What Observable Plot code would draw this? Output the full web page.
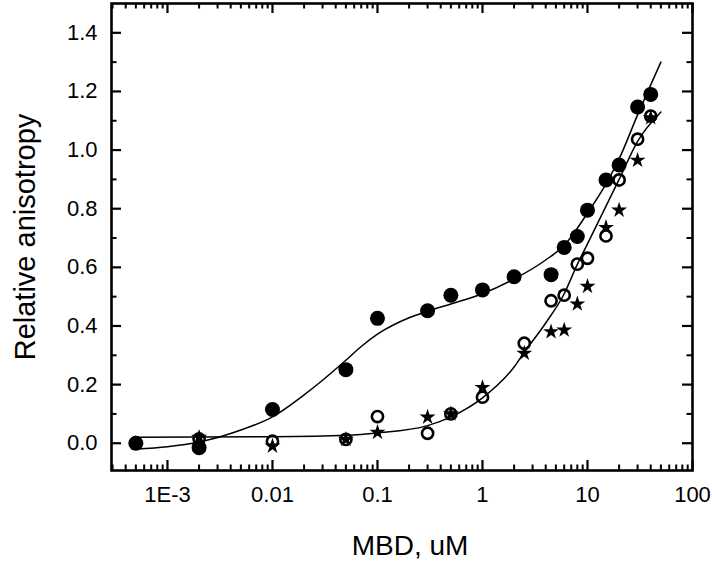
<!DOCTYPE html>
<html><head><meta charset="utf-8">
<script src="https://cdn.jsdelivr.net/npm/d3@7"></script>
<script src="https://cdn.jsdelivr.net/npm/@observablehq/plot@0.6"></script>
<style>body{margin:0;background:#fff} #chart svg{display:block}</style>
</head><body><div id="chart"></div>
<script>
// ---- data ----
const filledX = [5e-4, 2e-3, 0.01, 0.05, 0.1, 0.3, 0.5, 1, 2, 4.5, 6, 8, 10, 15, 20, 30, 40];
const filledY = [0.0, -0.015, 0.115, 0.251, 0.426, 0.452, 0.505, 0.523, 0.568, 0.575, 0.668, 0.705, 0.795, 0.898, 0.949, 1.147, 1.19];

const openX = [5e-4, 2e-3, 0.01, 0.05, 0.1, 0.3, 0.5, 1, 2.5, 4.5, 6, 8, 10, 15, 20, 30, 40];
const openY = [0.0, 0.015, 0.007, 0.013, 0.091, 0.034, 0.1, 0.157, 0.341, 0.486, 0.505, 0.611, 0.631, 0.707, 0.898, 1.037, 1.116];

const starX = [5e-4, 2e-3, 0.01, 0.05, 0.1, 0.3, 0.5, 1, 2.5, 4.5, 6, 8, 10, 15, 20, 30, 40];
const starY = [0.0, 0.02, -0.01, 0.013, 0.037, 0.089, 0.1, 0.19, 0.307, 0.38, 0.386, 0.475, 0.535, 0.736, 0.795, 0.965, 1.11];

// fitted curves
const fitAX = [5e-4, 1e-3, 2e-3, 5e-3, 0.01, 0.02, 0.03, 0.05, 0.07, 0.1, 0.2, 0.3, 0.5, 1, 2, 4, 6, 10, 15, 20, 30, 50];
const fitAY = [-0.02, -0.012, 0.004, 0.045, 0.09, 0.165, 0.215, 0.283, 0.33, 0.372, 0.428, 0.45, 0.475, 0.51, 0.56, 0.625, 0.675, 0.785, 0.885, 0.97, 1.12, 1.30];
const fitBX = [5e-4, 0.01, 0.05, 0.1, 0.3, 0.5, 1, 2, 2.5, 4, 6, 8, 10, 20, 30, 50];
const fitBY = [0.02, 0.022, 0.027, 0.035, 0.06, 0.09, 0.155, 0.26, 0.31, 0.41, 0.51, 0.61, 0.68, 0.9, 1.03, 1.13];

// axes
const xTickValues = [1e-3, 0.01, 0.1, 1, 10, 100];
const xTickLabels = ["1E-3", "0.01", "0.1", "1", "10", "100"];
const xMinorMantissas = [2, 3, 4, 5, 6, 7, 8, 9];
const xMinorDecades = [1e-4, 1e-3, 1e-2, 1e-1, 1, 10];
const yTickValues = [0.0, 0.2, 0.4, 0.6, 0.8, 1.0, 1.2, 1.4];
const yMinorValues = [0.1, 0.3, 0.5, 0.7, 0.9, 1.1, 1.3];
const xLabel = "MBD, uM";
const yLabel = "Relative anisotropy";

// ---- build ----
const xDomain = [Math.pow(10, -3.533), 100];
const yDomain = [-0.093, 1.5];
const xMinorValues = xMinorDecades.flatMap(d => xMinorMantissas.map(m => m * d))
  .filter(v => v >= xDomain[0] && v <= xDomain[1]);

const zip = (xs, ys) => xs.map((x, i) => ({x, y: ys[i]}));
const filled = zip(filledX, filledY);
const open = zip(openX, openY);
const stars = zip(starX, starY);
const fitA = zip(fitAX, fitAY);
const fitB = zip(fitBX, fitBY);

const W = 712, H = 564, mT = 3, mB = 94, mL = 111, mR = 20;
const FH = H - mT - mB, FW = W - mL - mR;
const majorLen = 10, minorLen = 5.5;

const font = "'Liberation Sans', Arial, Helvetica, sans-serif";

const chart = Plot.plot({
  width: W, height: H,
  marginTop: mT, marginBottom: mB, marginLeft: mL, marginRight: mR,
  style: {fontFamily: font, fontSize: "22px", color: "black", background: "white"},
  x: {type: "log", domain: xDomain},
  y: {domain: yDomain},
  marks: [
    // fitted curves
    Plot.line(fitA, {x: "x", y: "y", curve: "monotone-x", stroke: "black", strokeWidth: 1.5}),
    Plot.line(fitB, {x: "x", y: "y", curve: "monotone-x", stroke: "black", strokeWidth: 1.5}),
    // points
    Plot.dot(stars, {x: "x", y: "y", symbol: "star", r: 5, fill: "black", stroke: "none"}),
    Plot.dot(open, {x: "x", y: "y", symbol: "circle", r: 5.6, fill: "none", stroke: "black", strokeWidth: 2.6}),
    Plot.dot(filled, {x: "x", y: "y", symbol: "circle", r: 7.5, fill: "black", stroke: "none"}),
    // inward ticks: bottom & top
    Plot.ruleX(xTickValues, {x: d => d, insetTop: FH - majorLen, stroke: "black", strokeWidth: 2.2}),
    Plot.ruleX(xMinorValues, {x: d => d, insetTop: FH - minorLen, stroke: "black", strokeWidth: 2}),
    Plot.ruleX(xTickValues, {x: d => d, insetBottom: FH - majorLen, stroke: "black", strokeWidth: 2.2}),
    Plot.ruleX(xMinorValues, {x: d => d, insetBottom: FH - minorLen, stroke: "black", strokeWidth: 2}),
    // inward ticks: left & right
    Plot.ruleY(yTickValues, {y: d => d, insetRight: FW - majorLen, stroke: "black", strokeWidth: 2.2}),
    Plot.ruleY(yMinorValues, {y: d => d, insetRight: FW - minorLen, stroke: "black", strokeWidth: 2}),
    Plot.ruleY(yTickValues, {y: d => d, insetLeft: FW - majorLen, stroke: "black", strokeWidth: 2.2}),
    Plot.ruleY(yMinorValues, {y: d => d, insetLeft: FW - minorLen, stroke: "black", strokeWidth: 2}),
    // tick labels
    Plot.axisX(xTickValues, {tickSize: 0, tickPadding: 16, label: null, fontSize: 22,
      tickFormat: d => xTickLabels[xTickValues.indexOf(d)]}),
    Plot.axisY(yTickValues, {tickSize: 0, tickPadding: 14, label: null, fontSize: 22,
      tickFormat: d3.format(".1f")}),
    // titles
    Plot.text([xLabel], {frameAnchor: "bottom", textAnchor: "middle", dx: 8, dy: 84, fontSize: 28, fill: "black"}),
    Plot.text([yLabel], {frameAnchor: "left", textAnchor: "middle", dx: -86, rotate: -90, fontSize: 29, fill: "black"}),
    Plot.frame({stroke: "black", strokeWidth: 2.6})
  ]
});
document.getElementById("chart").appendChild(chart);
</script>
</body></html>
